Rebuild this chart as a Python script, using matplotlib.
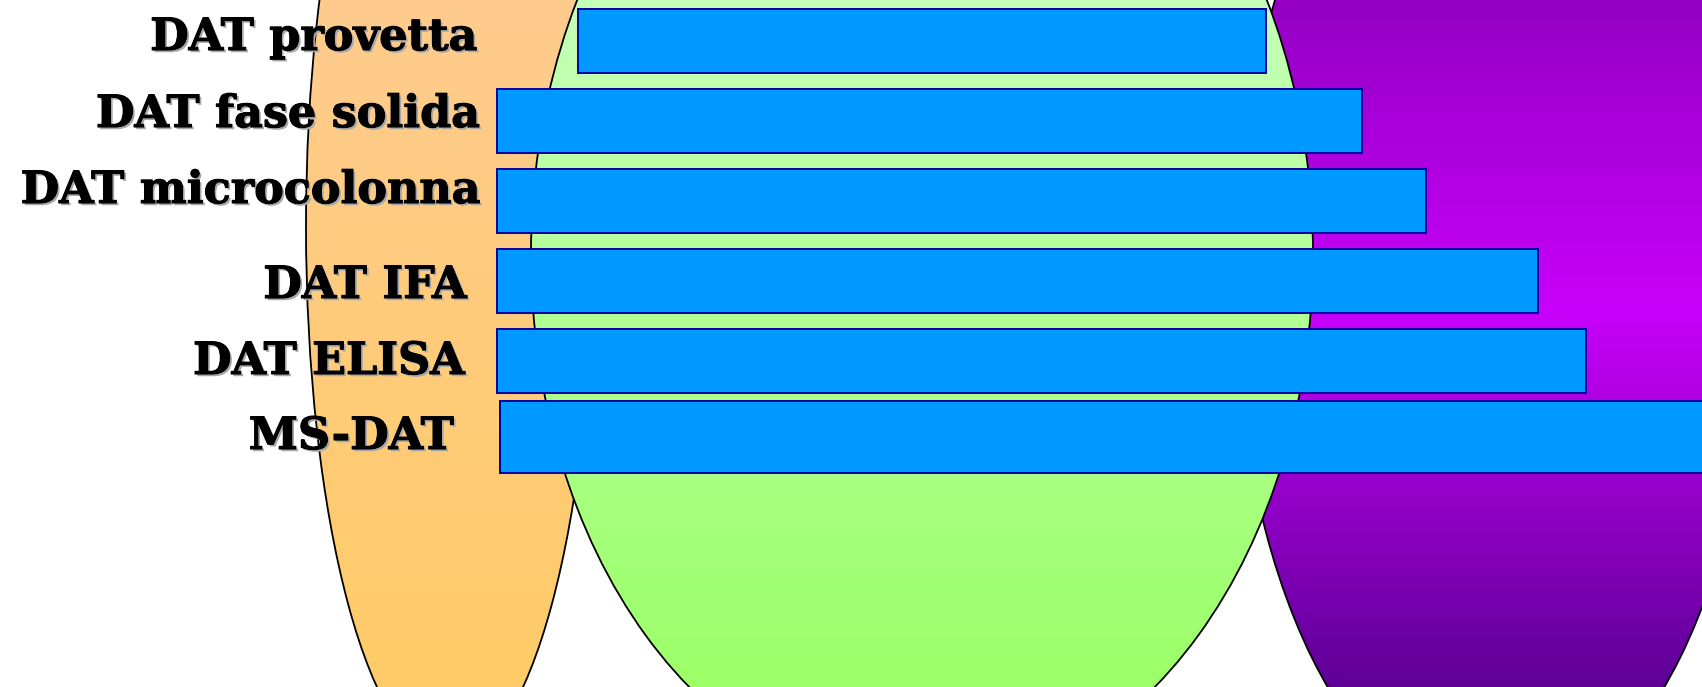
import numpy as np
import matplotlib
matplotlib.use('Agg')
import matplotlib.pyplot as plt
from matplotlib.patches import Ellipse
import matplotlib.patheffects as pe

# data (in slide pixel units)
labels = ['DAT provetta', 'DAT fase solida', 'DAT microcolonna',
          'DAT IFA', 'DAT ELISA', 'MS-DAT']
bar_start = [578, 497, 497, 497, 497, 500]
bar_end = [1266, 1362, 1426, 1538, 1586, 1760]

# layout
W, H = 1702, 687
bar_y = [40.5, 120.5, 200.5, 281, 361, 437]
bar_h = [64, 64, 64, 64, 64, 72]
label_x = [478, 481, 481, 467, 465, 454]
label_y = [50, 127, 203, 298, 374, 449]

# background ellipses: center x, center y, half width, half height, colour stops along y
ellipses = [
    dict(cx=1496, cy=282, a=261, b=530, zorder=1,
         stops=[(0, '#9400c4'), (310, '#c800fa'), (687, '#5e0096')]),
    dict(cx=450, cy=226, a=144, b=535, zorder=2,
         stops=[(0, '#ffcc8e'), (687, '#fecb68')]),
    dict(cx=922, cy=254, a=391, b=539, zorder=3,
         stops=[(0, '#c4ffb8'), (687, '#9cff68')]),
]


def hex2rgb(h):
    h = h.lstrip('#')
    return [int(h[i:i + 2], 16) / 255 for i in (0, 2, 4)]


fig = plt.figure(figsize=(W / 100, H / 100), dpi=100)
ax = fig.add_axes([0, 0, 1, 1])
ax.set_xlim(0, W)
ax.set_ylim(H, 0)
ax.axis('off')

for e in ellipses:
    y0, y1 = e['cy'] - e['b'], e['cy'] + e['b']
    ys = np.linspace(y0, y1, 600)
    sy = [s[0] for s in e['stops']]
    cols = np.array([hex2rgb(s[1]) for s in e['stops']])
    img = np.stack([np.interp(ys, sy, cols[:, k]) for k in range(3)], axis=-1)[:, None, :]
    patch = Ellipse((e['cx'], e['cy']), 2 * e['a'], 2 * e['b'],
                    facecolor='none', edgecolor='none', zorder=e['zorder'])
    ax.add_patch(patch)
    im = ax.imshow(img, extent=(e['cx'] - e['a'], e['cx'] + e['a'], y0, y1),
                   origin='lower', aspect='auto', interpolation='bilinear',
                   zorder=e['zorder'])
    im.set_clip_path(patch)
    ax.add_patch(Ellipse((e['cx'], e['cy']), 2 * e['a'], 2 * e['b'],
                         facecolor='none', edgecolor='black', lw=1.3,
                         zorder=e['zorder'] + 0.5))

ax.set_xlim(0, W)
ax.set_ylim(H, 0)

widths = [e - s for s, e in zip(bar_start, bar_end)]
ax.barh(bar_y, widths, height=bar_h, left=bar_start, color='#0099ff',
        edgecolor='#0000a0', linewidth=1.4, zorder=10)

# grey drop shadow, then a thin stroke to make the bold face heavier
text_fx = [pe.withSimplePatchShadow(offset=(1.6, -1.6), shadow_rgbFace='#a8a8a8', alpha=1),
           pe.Stroke(linewidth=0.8, foreground='black'), pe.Normal()]
for lab, x, y in zip(labels, label_x, label_y):
    ax.text(x, y, lab, ha='right', va='baseline', fontsize=32,
            fontfamily='DejaVu Serif', fontweight='bold', color='black',
            path_effects=text_fx, zorder=20)

fig.savefig('out.png', dpi=100)
